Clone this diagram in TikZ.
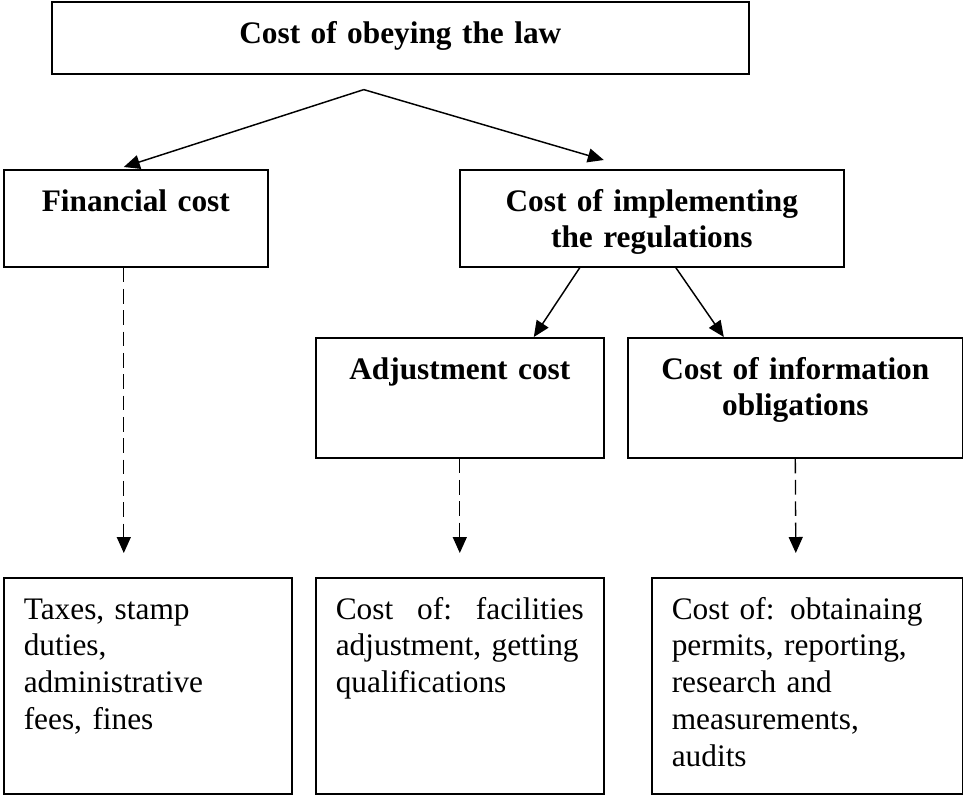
\documentclass[tikz,border=0pt]{standalone}
\usepackage{fontspec}
\setmainfont{Liberation Serif}
\usetikzlibrary{arrows.meta,calc}

\begin{document}
\begin{tikzpicture}[x=0.75pt,y=-0.75pt,
            box/.style={draw,rectangle,line width=1.2pt,anchor=north west,inner xsep=15pt,inner ysep=0pt,text height=31pt,font=\fontsize{23.5}{27.6}\selectfont},
            head/.style={box,font=\fontsize{23.5}{27.6}\selectfont\bfseries,align=center},
            body/.style={box,align=left},
            arr/.style={line width=1.1pt,-{Triangle[length=12pt,width=10.5pt]}},
            dasharr/.style={line width=1pt,dash pattern=on 11pt off 5pt,-{Triangle[length=12pt,width=10.5pt]}}]

            \useasboundingbox (0,0) rectangle (963,794);

            \node[head,text width=492.75pt,text depth=23pt] (law) at (51,1) {Cost of obeying the law};
            \node[head,text width=168pt,text depth=41.75pt] (fin) at (3,169) {Financial cost};
            \node[head,text width=258pt,text depth=41.75pt] (impl) at (459,169) {Cost of implementing\\the regulations};
            \node[head,text width=186pt,text depth=59pt] (adj) at (315,337) {Adjustment cost};
            \node[head,text width=221.25pt,text depth=59pt] (info) at (627,337) {Cost of information\\obligations};
            \node[body,text width=186pt,text depth=131pt] (taxes) at (3,577) {Taxes, stamp\\duties,\\administrative\\fees, fines};
            \node[body,text width=186pt,text depth=131pt] (facil) at (315,577) {\hbox to 186pt{Cost\hfill of:\hfill facilities}\\adjustment, getting\\qualifications};
            \node[body,text width=203.25pt,text depth=131pt] (permits) at (651,577) {Cost of: obtainaing\\permits, reporting,\\research and\\measurements,\\audits};

            \coordinate (split) at ($(law.south)+(-36.5,15)$);

            \draw[arr] (split) -- ($(fin.north)+(-12,-2)$);
            \draw[arr] (split) -- ($(impl.north)+(-48,-9)$);
            \draw[arr] ($(impl.south)+(-72,0)$) -- ($(adj.north)+(74,0)$);
            \draw[arr] ($(impl.south)+(24,0)$) -- ($(info.north)+(-71.5,0)$);

            \draw[dasharr] ($(fin.south)+(-12,0)$) -- ($(taxes.north)+(-24,-24)$);
            \draw[dasharr] (adj.south) -- ($(facil.north)+(0,-24)$);
            \draw[dasharr] (info.south) -- ($(permits.north)+(-11.5,-24)$);

\end{tikzpicture}
\end{document}
